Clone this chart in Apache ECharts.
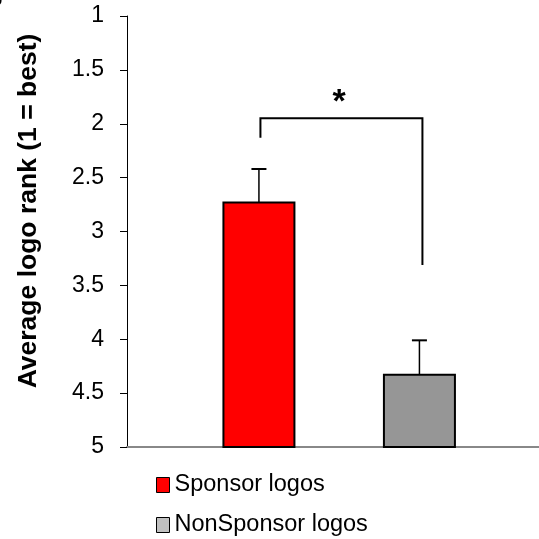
<!DOCTYPE html>
<html>
<head>
<meta charset="utf-8">
<script src="https://cdn.jsdelivr.net/npm/echarts@6/dist/echarts.min.js"></script>
<style>
  html, body { margin: 0; padding: 0; background: #fff; }
  #chart { width: 539px; height: 539px; }
</style>
</head>
<body>
<div id="chart"></div>
<script>
// Average logo rank per logo type (1 = best), with upper error bar
const categories = ['Sponsor logos', 'NonSponsor logos'];
const meanRank = [2.73, 4.33];
const errorTop = [2.42, 4.01];
const barColors = ['#ff0000', '#969696'];
const legendColors = ['#ff0000', '#c0c0c0'];

// Significance bracket: left foot, top bar, right foot (rank units)
const bracketRank = [2.13, 1.95, 3.31];
const significanceMark = '*';

const rankMin = 1;
const rankMax = 5;
const rankStep = 0.5;

const FONT = "'Liberation Sans', Arial, sans-serif";
const BAR_W = 71;
const CAP_W = 15;

const chart = echarts.init(document.getElementById('chart'), null, { renderer: 'canvas' });

function barRenderer(params, api) {
  const x = api.value(0);
  const v = api.value(1);
  const e = api.value(2);
  const top = api.coord([x, v]);
  const base = api.coord([x, rankMax]);
  const err = api.coord([x, e]);
  const color = barColors[params.seriesIndex];
  return {
    type: 'group',
    children: [
      {
        type: 'line',
        shape: { x1: top[0], y1: top[1], x2: err[0], y2: err[1] },
        style: { stroke: '#000', lineWidth: 1.5 }
      },
      {
        type: 'line',
        shape: { x1: err[0] - CAP_W / 2, y1: err[1], x2: err[0] + CAP_W / 2, y2: err[1] },
        style: { stroke: '#000', lineWidth: 2 }
      },
      {
        type: 'rect',
        shape: { x: top[0] - BAR_W / 2, y: top[1], width: BAR_W, height: base[1] - top[1] },
        style: { fill: color, stroke: '#000', lineWidth: 2 }
      }
    ]
  };
}

const barSeries = categories.map((name, i) => ({
  type: 'custom',
  name: name,
  renderItem: barRenderer,
  itemStyle: { color: legendColors[i] },
  encode: { x: 0, y: 1 },
  data: [[i, meanRank[i], errorTop[i]]],
  z: 3
}));

const bracketSeries = {
  type: 'custom',
  name: 'bracket',
  renderItem: function (params, api) {
    const l1 = api.coord([0, bracketRank[0]]);
    const l2 = api.coord([0, bracketRank[1]]);
    const r1 = api.coord([1, bracketRank[1]]);
    const r2 = api.coord([1, bracketRank[2]]);
    const mid = api.coord([0.5, bracketRank[1]]);
    return {
      type: 'group',
      children: [
        {
          type: 'polyline',
          shape: { points: [[l1[0] + 1.5, l1[1]], [l2[0] + 1.5, l2[1]], [r1[0] + 3, r1[1]], [r2[0] + 3, r2[1]]] },
          style: { stroke: '#000', lineWidth: 2, fill: null }
        },
        {
          type: 'text',
          x: mid[0],
          y: mid[1] - 16,
          style: {
            text: significanceMark,
            font: 'bold 34px ' + FONT,
            fill: '#000',
            align: 'center',
            verticalAlign: 'middle'
          }
        }
      ]
    };
  },
  data: [[0.5, bracketRank[1]]],
  z: 4,
  silent: true
};

function legendFor(i, top) {
  return {
    orient: 'vertical',
    left: 156,
    top: top,
    padding: 0,
    itemWidth: 13,
    itemHeight: 15,
    icon: 'rect',
    selectedMode: false,
    textStyle: { color: '#000', fontSize: 23.5, fontFamily: FONT, lineHeight: 24 },
    data: [{
      name: categories[i],
      itemStyle: { color: legendColors[i], borderColor: '#000', borderWidth: 1 }
    }]
  };
}

const option = {
  animation: false,
  backgroundColor: '#fff',
  textStyle: { fontFamily: FONT },
  grid: { left: 127, right: 0, top: 16, bottom: 92, containLabel: false },
  xAxis: {
    type: 'value',
    min: -0.822,
    max: 1.745,
    axisLine: { show: true, onZero: false, lineStyle: { color: '#888', width: 2 } },
    axisTick: { show: false },
    axisLabel: { show: false },
    splitLine: { show: false }
  },
  yAxis: {
    type: 'value',
    inverse: true,
    min: rankMin,
    max: rankMax,
    interval: rankStep,
    axisLine: { show: true, onZero: false, lineStyle: { color: '#000', width: 1 } },
    axisTick: { show: true, inside: false, length: 7, lineStyle: { color: '#000', width: 1 } },
    axisLabel: { color: '#000', fontSize: 23, fontFamily: FONT, margin: 23 },
    splitLine: { show: false }
  },
  legend: [legendFor(0, 473), legendFor(1, 513)],
  graphic: [
    {
      type: 'text',
      x: 29,
      y: 211,
      rotation: Math.PI / 2,
      style: {
        text: 'Average logo rank (1 = best)',
        font: 'bold 26.5px ' + FONT,
        fill: '#000',
        align: 'center',
        verticalAlign: 'middle'
      }
    },
    {
      type: 'text',
      x: -16,
      y: 12,
      style: {
        text: 'B',
        font: 'bold 26px ' + FONT,
        fill: '#000',
        align: 'left',
        verticalAlign: 'bottom'
      }
    }
  ],
  series: barSeries.concat([bracketSeries])
};

chart.setOption(option);
</script>
</body>
</html>
